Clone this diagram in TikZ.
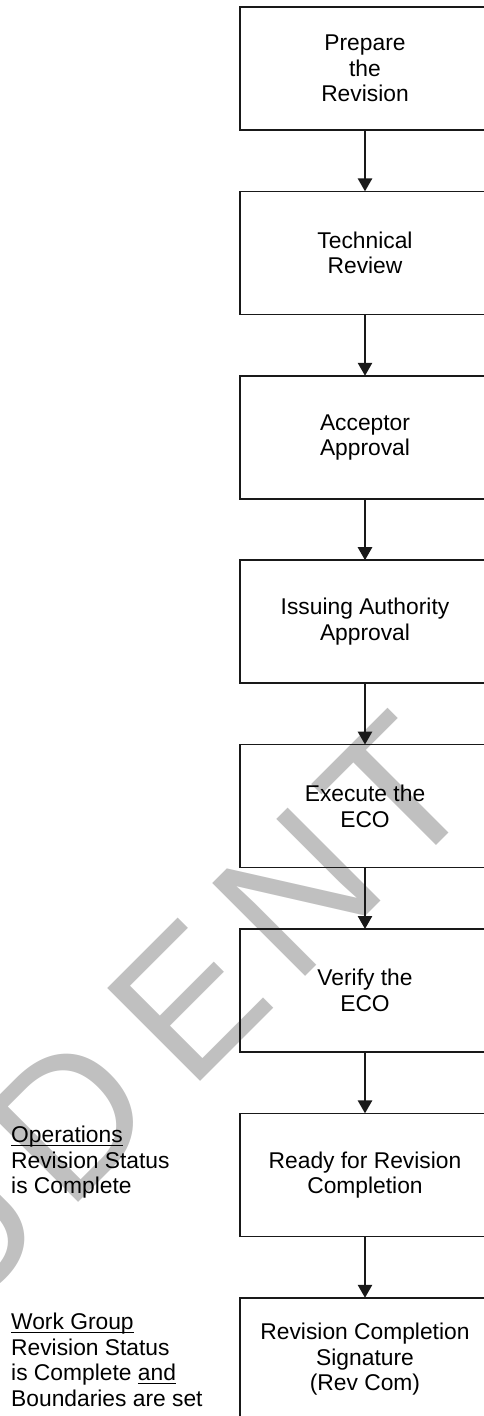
\documentclass[tikz,border=0pt]{standalone}
\usepackage{fontspec}
\setmainfont{Liberation Sans}
\usepackage{tikz}
\usetikzlibrary{arrows.meta, positioning}

\definecolor{wmgray}{RGB}{192,192,192}
\newsavebox\ulbox
\newcommand{\ulword}[1]{\sbox\ulbox{#1}\rlap{\rule[-3pt]{\wd\ulbox}{1.3pt}}\usebox\ulbox}

\begin{document}
\begin{tikzpicture}[x=1pt, y=-1pt,
    stepbox/.style={draw=black!90, line width=1.6pt, minimum width=250pt, minimum height=123pt,
                    outer sep=0pt, inner sep=0pt, align=center, font=\fontsize{22.8}{25.5}\selectfont},
    note/.style={anchor=west, align=left, inner sep=0pt, font=\fontsize{22.8}{25.5}\selectfont},
    wmark/.style={rotate=45, anchor=base west, inner sep=0pt, text=wmgray, font=\fontsize{191}{191}\selectfont},
    arr/.style={-{Triangle[length=13pt, width=14pt]}, line width=2.6pt, black!90}]
  \useasboundingbox (0,0) rectangle (484,1416);
  % watermark behind everything, one letter at a time along the 45 degree line
  \foreach \ch/\px/\py [count=\i] in {S/-244.8/1526.5, T/-140.5/1422.2, U/-43.9/1325.6, D/67.75/1213.95,
                                      E/189.35/1092.35, N/294.35/987.35, T/401.3/880.4}
    \node[wmark] (wm\i) at (\px,\py) {\ch};
  % process steps
  \node[stepbox] (prep) at (365,68.5) {Prepare\\the\\Revision};
  \node[stepbox, below=61.4pt of prep]   (tech)   {Technical\\Review};
  \node[stepbox, below=61.4pt of tech]   (accept) {Acceptor\\Approval};
  \node[stepbox, below=61.4pt of accept] (issue)  {Issuing Authority\\Approval};
  \node[stepbox, below=61.4pt of issue]  (exec)   {Execute the\\ECO};
  \node[stepbox, below=61.4pt of exec]   (verify) {Verify the\\ECO};
  \node[stepbox, below=61.4pt of verify] (ready)  {Ready for Revision\\Completion};
  \node[stepbox, below=61.4pt of ready]  (revcom) {Revision Completion\\Signature\\(Rev Com)};
  \foreach \a/\b in {prep/tech, tech/accept, accept/issue, issue/exec, exec/verify, verify/ready, ready/revcom}
    \draw[arr] (\a) -- (\b);
  % status notes
  \node[note] (opsnote) at (11,1162.5) {\ulword{Operations}\\Revision Status\\is Complete};
  \node[note] (wgnote)  at (11,1360)   {\ulword{Work Group}\\Revision Status\\is Complete \ulword{and}\\Boundaries are set};
\end{tikzpicture}
\end{document}
